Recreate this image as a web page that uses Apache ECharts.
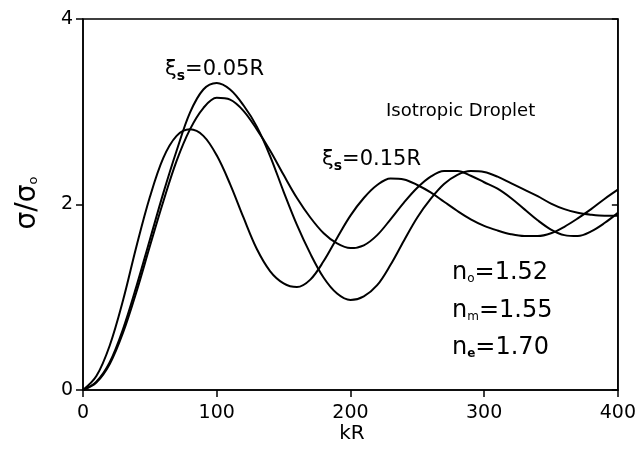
<!DOCTYPE html>
<html>
<head>
<meta charset="utf-8">
<script src="https://cdn.jsdelivr.net/npm/echarts@6/dist/echarts.min.js"></script>
<style>html,body{margin:0;padding:0;background:#fff}#c{width:639px;height:461px}</style>
</head>
<body>
<div id="c"></div>
<script>
// kR values (x)
var kR = [0,10,20,30,40,50,60,70,80,90,100,110,120,130,140,150,160,170,180,190,200,
          210,220,230,240,250,260,270,280,290,300,310,320,330,340,350,360,370,380,390,400];
// xi_s = 0.15R curve
var curveA = [0,0.15,0.48,0.97,1.55,2.08,2.50,2.74,2.81,2.74,2.53,2.22,1.86,1.52,1.28,1.15,1.11,1.19,1.39,1.64,1.88,
              2.07,2.21,2.28,2.27,2.21,2.13,2.03,1.93,1.84,1.77,1.72,1.68,1.66,1.66,1.69,1.76,1.85,1.95,2.06,2.16];
// xi_s = 0.05R curve
var curveB = [0,0.09,0.30,0.66,1.12,1.62,2.12,2.58,2.99,3.24,3.31,3.24,3.07,2.84,2.52,2.14,1.78,1.47,1.21,1.04,0.97,
              1.01,1.13,1.35,1.61,1.86,2.06,2.22,2.32,2.36,2.35,2.30,2.23,2.16,2.09,2.01,1.95,1.91,1.89,1.88,1.88];
// third curve
var curveC = [0,0.08,0.28,0.62,1.06,1.55,2.03,2.47,2.81,3.04,3.15,3.13,3.01,2.81,2.58,2.32,2.07,1.86,1.69,1.58,1.53,
              1.56,1.67,1.84,2.02,2.18,2.30,2.36,2.36,2.31,2.24,2.17,2.07,1.95,1.83,1.73,1.67,1.66,1.71,1.80,1.91];
var xTicks = [0,100,200,300,400];
var yTicks = [0,2,4];

function pairs(v){ return kR.map(function(x,i){ return [x, v[i]]; }); }

var FONT = 'DejaVu Sans';
var chart = echarts.init(document.getElementById('c'));
var lineStyle = {color:'#000', width:2};
function ser(v){ return {type:'line', data:pairs(v), smooth:0.35, showSymbol:false, lineStyle:lineStyle, silent:true}; }

var subRich = function(mainSize, subSize, pad, bold){
  return {m:{fontSize:mainSize, fontFamily:FONT, lineHeight:mainSize+2, verticalAlign:'top'},
          s:{fontSize:subSize, fontFamily:FONT, fontWeight:bold?'bold':'normal', lineHeight:subSize+1, padding:[pad,0,0,0], verticalAlign:'top'}};
};

chart.setOption({
  animation:false,
  backgroundColor:'#fff',
  grid:{left:83, right:20, top:19, bottom:71, show:true, borderColor:'#000', borderWidth:1.5},
  xAxis:{type:'value', min:xTicks[0], max:xTicks[xTicks.length-1], interval:100,
    axisLine:{lineStyle:{color:'#000', width:1.5}},
    axisTick:{inside:false, length:7, lineStyle:{color:'#000', width:1.5}},
    axisLabel:{color:'#000', fontSize:19, fontFamily:FONT, margin:14},
    splitLine:{show:false}},
  yAxis:[{type:'value', min:yTicks[0], max:yTicks[yTicks.length-1], interval:2,
    axisLine:{show:true, lineStyle:{color:'#000', width:1.5}},
    axisTick:{show:true, inside:false, length:7, lineStyle:{color:'#000', width:1.5}},
    axisLabel:{color:'#000', fontSize:19, fontFamily:FONT, margin:10},
    splitLine:{show:false}},
   {type:'value', position:'right', min:0, max:4, interval:2,
    axisLine:{show:true, lineStyle:{color:'#000', width:1.5}},
    axisTick:{show:true, inside:true, length:6, lineStyle:{color:'#000', width:1.5}},
    axisLabel:{show:false}, splitLine:{show:false}}],
  series:[ser(curveA), ser(curveB), ser(curveC)],
  graphic:[
    {type:'text', x:165, y:59, style:{text:'{m|ξ}{s|s}{m|=0.05R}', fill:'#000', rich:subRich(21,14,10,true)}},
    {type:'text', x:322, y:149, style:{text:'{m|ξ}{s|s}{m|=0.15R}', fill:'#000', rich:subRich(21,14,10,true)}},
    {type:'text', x:386, y:102, style:{text:'Isotropic Droplet', fill:'#000', font:'18px "DejaVu Sans"'}},
    {type:'text', x:452, y:261, style:{text:'{m|n}{s|o}{m|=1.52}', fill:'#000', rich:subRich(24,12,12,false)}},
    {type:'text', x:452, y:299, style:{text:'{m|n}{s|m}{m|=1.55}', fill:'#000', rich:subRich(24,12,12,false)}},
    {type:'text', x:452, y:336, style:{text:'{m|n}{s|e}{m|=1.70}', fill:'#000', rich:subRich(24,12,12,true)}},
    {type:'text', x:29, y:203, rotation:Math.PI/2, style:{text:'{m|σ/σ}{s|o}', fill:'#000', align:'center', verticalAlign:'middle',
      rich:subRich(28,13,13,false)}},
    {type:'text', x:352, y:434, style:{text:'kR', fill:'#000', font:'20px "DejaVu Sans"', align:'center', verticalAlign:'middle'}}
  ]
});
</script>
</body>
</html>
